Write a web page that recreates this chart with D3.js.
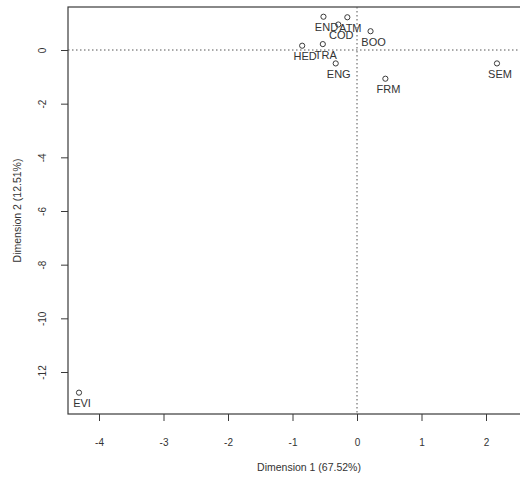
<!DOCTYPE html>
<html>
<head>
<meta charset="utf-8">
<script src="https://cdn.jsdelivr.net/npm/d3@7"></script>
<style>
  body { margin: 0; background: #fff; }
  text { font-family: "Liberation Sans", Arial, sans-serif; fill: #333; }
</style>
</head>
<body>
<svg id="chart" width="520" height="479"></svg>
<script>
// Data
const labels = ["EVI", "SEM", "END", "ATM", "COD", "BOO", "HED", "TRA", "ENG", "FRM"];
const dim1 = [-4.31, 2.17, -0.52, -0.15, -0.29, 0.21, -0.85, -0.53, -0.33, 0.44];
const dim2 = [-12.77, -0.5, 1.24, 1.22, 0.95, 0.7, 0.16, 0.22, -0.5, -1.07];
const xTicks = [-4, -3, -2, -1, 0, 1, 2];
const yTicks = [0, -2, -4, -6, -8, -10, -12];
const xTitle = "Dimension 1 (67.52%)";
const yTitle = "Dimension 2 (12.51%)";

const svg = d3.select("svg#chart");

// plot box (right side runs past the window, as in the scan)
const box = { left: 68, top: 7, right: 550, bottom: 414 };

const x = d3.scaleLinear().domain([-4, 2]).range([99, 486]);
const y = d3.scaleLinear().domain([0, -12]).range([50, 372]);

const ink = "#3a3a3a";

svg.append("rect")
  .attr("x", box.left)
  .attr("y", box.top)
  .attr("width", box.right - box.left)
  .attr("height", box.bottom - box.top)
  .style("fill", "none")
  .style("stroke", ink)
  .style("stroke-width", 1.2);

// reference lines at zero
svg.append("line")
  .attr("x1", box.left).attr("x2", box.right)
  .attr("y1", y(0)).attr("y2", y(0))
  .style("stroke", "#555")
  .style("stroke-dasharray", "1.5,2.5");

svg.append("line")
  .attr("x1", x(0)).attr("x2", x(0))
  .attr("y1", box.top).attr("y2", box.bottom)
  .style("stroke", "#555")
  .style("stroke-dasharray", "1.5,2.5");

// x axis
const xAxis = svg.append("g")
  .attr("transform", `translate(0,${box.bottom})`)
  .call(d3.axisBottom(x).tickValues(xTicks).tickSize(7).tickPadding(18).tickFormat(d3.format("d")));
xAxis.select(".domain").remove();
xAxis.selectAll("line").style("stroke", ink);
xAxis.selectAll("text")
  .style("font-size", "10px")
  .style("font-family", "'Liberation Sans', Arial, sans-serif")
  .style("fill", "#333")
  .text((d) => String(d));

// y axis with rotated labels (R style)
const yAxis = svg.append("g")
  .attr("transform", `translate(${box.left},0)`)
  .call(d3.axisLeft(y).tickValues(yTicks).tickSize(7).tickFormat(d3.format("d")));
yAxis.select(".domain").remove();
yAxis.selectAll("line").style("stroke", ink);
yAxis.selectAll("text")
  .attr("x", 0)
  .attr("dy", null)
  .attr("text-anchor", "middle")
  .attr("transform", "translate(-22,0) rotate(-90)")
  .style("font-size", "10px")
  .style("font-family", "'Liberation Sans', Arial, sans-serif")
  .style("fill", "#333")
  .text((d) => String(d));

// axis titles
svg.append("text")
  .attr("x", (box.left + box.right) / 2)
  .attr("y", 471)
  .attr("text-anchor", "middle")
  .style("font-size", "10.5px")
  .text(xTitle);

svg.append("text")
  .attr("transform", `translate(21,${(box.top + box.bottom) / 2}) rotate(-90)`)
  .attr("text-anchor", "middle")
  .style("font-size", "10.5px")
  .text(yTitle);

// points
const points = labels.map((label, i) => ({ label, d1: dim1[i], d2: dim2[i] }));

const pointG = svg.selectAll("g.point")
  .data(points)
  .join("g")
  .attr("class", "point")
  .attr("transform", (d) => `translate(${x(d.d1)},${y(d.d2)})`);

pointG.append("circle")
  .attr("r", 2.6)
  .style("fill", "none")
  .style("stroke", ink)
  .style("stroke-width", 1);

pointG.append("text")
  .attr("x", 3)
  .attr("y", 14.5)
  .attr("text-anchor", "middle")
  .style("font-size", "11px")
  .text((d) => d.label);
</script>
</body>
</html>
